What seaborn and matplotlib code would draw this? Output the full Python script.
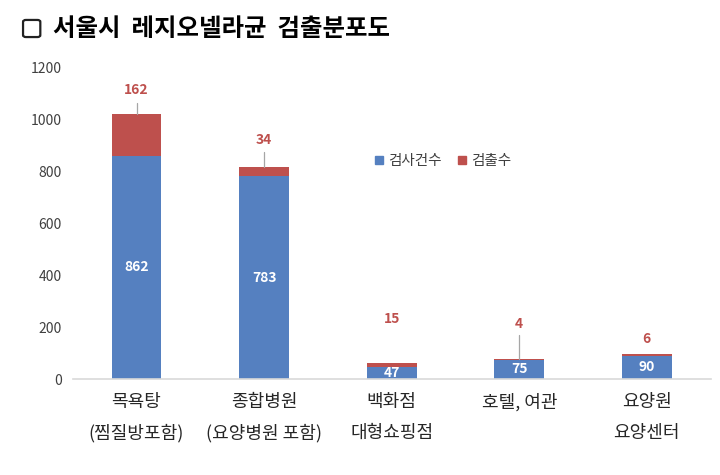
import matplotlib
matplotlib.use('Agg')
import matplotlib.pyplot as plt
import seaborn as sns
import pandas as pd
from matplotlib.lines import Line2D
from matplotlib.patches import FancyBboxPatch

# data
categories = ['목욕탕\n(찜질방포함)', '종합병원\n(요양병원 포함)', '백화점\n대형쇼핑점', '호텔, 여관', '요양원\n요양센터']
inspected = [862, 783, 47, 75, 90]
detected = [162, 34, 15, 4, 6]

BLUE = '#5580C0'
RED = '#BE504D'

sns.set_theme(style='white')
plt.rcParams['font.family'] = ['Noto Sans CJK KR', 'DejaVu Sans']

df = pd.DataFrame({'cat': categories, 'inspected': inspected, 'detected': detected})
df['total'] = df['inspected'] + df['detected']

fig = plt.figure(figsize=(7.2, 4.75), dpi=100)
ax = fig.add_axes([0.101, 0.202, 0.886, 0.655])

sns.barplot(data=df, x='cat', y='total', color=RED, width=0.39, saturation=1,
            linewidth=0, ax=ax)
sns.barplot(data=df, x='cat', y='inspected', color=BLUE, width=0.39, saturation=1,
            linewidth=0, ax=ax)

ax.set_ylim(0, 1200)
ax.set_yticks(range(0, 1201, 200))
ax.set_xlim(-0.5, 4.5)
ax.set_xlabel('')
ax.set_ylabel('')
for s in ['top', 'right', 'left']:
    ax.spines[s].set_visible(False)
ax.spines['bottom'].set_color('#D9D9D9')
ax.spines['bottom'].set_linewidth(1.2)
ax.tick_params(axis='y', length=0, labelsize=10, labelcolor='#404040', pad=8)
ax.tick_params(axis='x', length=0, labelsize=13, labelcolor='#262626', pad=10)
for lbl in ax.get_xticklabels():
    lbl.set_linespacing(1.9)
    lbl.set_fontweight('medium')

# value labels
lift = [90, 105, 170, 135, 60]
leader = [42, 58, 0, 90, 0]
for i, row in df.iterrows():
    ax.text(i, row['inspected'] / 2, str(row['inspected']), ha='center', va='center',
            color='white', fontsize=10, fontweight='bold')
    ax.text(i, row['total'] + lift[i], str(row['detected']), ha='center', va='center',
            color=RED, fontsize=10, fontweight='bold')
    if leader[i]:
        ax.plot([i, i], [row['total'], row['total'] + leader[i]], color='#A6A6A6', lw=0.9)

handles = [Line2D([], [], marker='s', ls='', color=BLUE, markersize=5.5, label='검사건수'),
           Line2D([], [], marker='s', ls='', color=RED, markersize=5.5, label='검출수')]
ax.legend(handles=handles, loc='upper left', bbox_to_anchor=(0.453, 0.765), ncol=2,
          frameon=False, fontsize=10.5, handlelength=0.6, handletextpad=0.3,
          columnspacing=1.1, labelcolor='#404040')

box = FancyBboxPatch((0.032, 0.922), 0.024, 0.036, boxstyle='round,pad=0,rounding_size=0.004',
                     transform=fig.transFigure, fill=False, ec='#222222', lw=1.6)
fig.patches.append(box)
fig.text(0.073, 0.940, '서울시  레지오넬라균  검출분포도', fontsize=17.6, fontweight='bold',
         va='center', ha='left', color='black')

fig.savefig('out.png', dpi=100)
